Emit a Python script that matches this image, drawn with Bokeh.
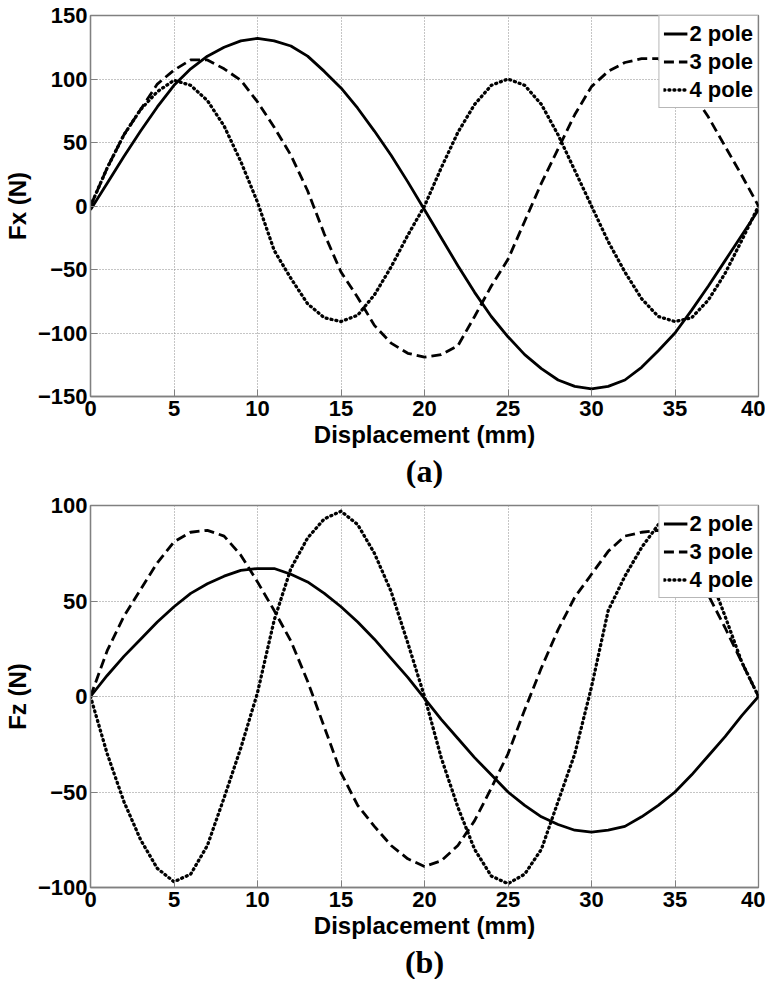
from bokeh.plotting import figure
from bokeh.layouts import column
from bokeh.models import Range1d, Title, FixedTicker
from bokeh.embed import file_html
from bokeh.resources import INLINE

# ---------------- data ----------------
displacement_mm = list(range(0, 41))

fx_2pole = [-3, 18, 39, 59, 78, 95, 108, 118, 125, 130, 132, 130, 126, 118, 106, 93,
            77, 59, 40, 19, -3, -25, -47, -68, -87, -103, -117, -128, -137, -142, -144,
            -142, -137, -127, -114, -100, -82, -63, -43, -23, -3]
fx_3pole = [0, 30, 56, 76, 96, 107, 115, 115, 108, 99, 82, 62, 40, 12, -22, -52,
            -72, -94, -108, -116, -119, -117, -110, -87, -63, -42, -12, 18, 45, 72, 94,
            106, 113, 116, 116, 105, 90, 70, 47, 24, 0]
fx_4pole = [0, 30, 56, 76, 90, 99, 95, 83, 63, 35, 3, -35, -57, -77, -88, -91,
            -86, -70, -48, -23, 0, 30, 58, 80, 95, 100, 95, 80, 56, 28, 0,
            -28, -52, -73, -87, -91, -88, -74, -53, -27, 0]

fz_2pole = [0, 11, 21, 30, 39, 47, 54, 59, 63, 66, 67, 67, 64, 60, 54, 47,
            39, 30, 20, 10, -1, -12, -22, -32, -41, -50, -57, -63, -67, -70, -71,
            -70, -68, -63, -57, -50, -41, -31, -21, -10, 0]
fz_3pole = [0, 24, 42, 56, 70, 81, 86, 87, 84, 74, 60, 45, 29, 8, -16, -40,
            -57, -68, -78, -85, -89, -86, -78, -65, -48, -30, -7, 15, 35, 52, 64,
            76, 84, 86, 87, 82, 68, 53, 36, 18, 0]
fz_4pole = [0, -30, -55, -75, -90, -97, -93, -78, -53, -27, 2, 40, 67, 83, 93, 97,
            90, 75, 55, 28, 0, -32, -58, -80, -94, -98, -93, -80, -55, -30, 5,
            45, 63, 78, 90, 95, 85, 65, 42, 18, 0]

x_ticks = [0, 5, 10, 15, 20, 25, 30, 35, 40]
fx_ticks = [-150, -100, -50, 0, 50, 100, 150]
fz_ticks = [-100, -50, 0, 50, 100]
series_names = ["2 pole", "3 pole", "4 pole"]

FONT = "Liberation Sans"


def make_panel(ys, ylabel, yticks, panel_label, frame_h, top_border):
    p = figure(frame_width=668, frame_height=frame_h,
               min_border_left=90, min_border_right=7,
               min_border_top=top_border, min_border_bottom=0,
               x_range=Range1d(0, 40), y_range=Range1d(yticks[0], yticks[-1]),
               output_backend="svg", toolbar_location=None)
    p.background_fill_color = "white"
    p.border_fill_color = "white"
    p.outline_line_color = "#808080"
    p.outline_line_width = 1.3

    styles = [dict(line_dash="solid", line_width=2.8),
              dict(line_dash="10 5", line_width=2.8),
              dict(line_dash="1 4", line_width=3.3, line_cap="round")]
    for y, name, st in zip(ys, series_names, styles):
        p.line(displacement_mm, y, line_color="black", legend_label=name, **st)

    p.xaxis.ticker = FixedTicker(ticks=x_ticks)
    p.yaxis.ticker = FixedTicker(ticks=yticks)
    for ax in (p.xaxis[0], p.yaxis[0]):
        ax.axis_line_color = "#808080"
        ax.axis_line_width = 1.3
        ax.major_tick_line_color = "#808080"
        ax.major_tick_in = 7
        ax.major_tick_out = 0
        ax.minor_tick_line_color = None
        ax.major_label_text_font = FONT
        ax.major_label_text_font_style = "bold"
        ax.major_label_text_font_size = "22px"
        ax.major_label_text_color = "black"
        ax.axis_label_text_font = FONT
        ax.axis_label_text_font_style = "bold"
        ax.axis_label_text_font_size = "24px"
        ax.axis_label_text_color = "black"
    p.xaxis.axis_label = "Displacement (mm)"
    p.yaxis.axis_label = ylabel
    p.xaxis.major_label_standoff = 4
    p.yaxis.major_label_standoff = 3
    p.xaxis.axis_label_standoff = 2
    p.yaxis.axis_label_standoff = 4

    for g in (p.xgrid[0], p.ygrid[0]):
        g.grid_line_color = "#8a8a8a"
        g.grid_line_dash = "1 2"
        g.grid_line_width = 1

    lg = p.legend[0]
    lg.location = "top_right"
    lg.margin = 0
    lg.padding = 4
    lg.spacing = 1
    lg.label_standoff = 2
    lg.glyph_width = 24
    lg.glyph_height = 27
    lg.label_height = 27
    lg.label_text_font = FONT
    lg.label_text_font_style = "bold"
    lg.label_text_font_size = "22px"
    lg.label_text_color = "black"
    lg.border_line_color = "#707070"
    lg.border_line_width = 1.3
    lg.background_fill_alpha = 1

    t = Title(text=panel_label, align="center", text_font="Liberation Serif",
              text_font_size="32px", text_font_style="bold", text_color="black",
              standoff=0, offset=0)
    p.add_layout(t, "below")
    return p


p1 = make_panel([fx_2pole, fx_3pole, fx_4pole], "Fx (N)", fx_ticks, "(a)", 381, 15)
p2 = make_panel([fz_2pole, fz_3pole, fz_4pole], "Fz (N)", fz_ticks, "(b)", 382, 17)

layout = column(p1, p2, spacing=0)
open("out.html", "w").write(file_html(layout, INLINE))
